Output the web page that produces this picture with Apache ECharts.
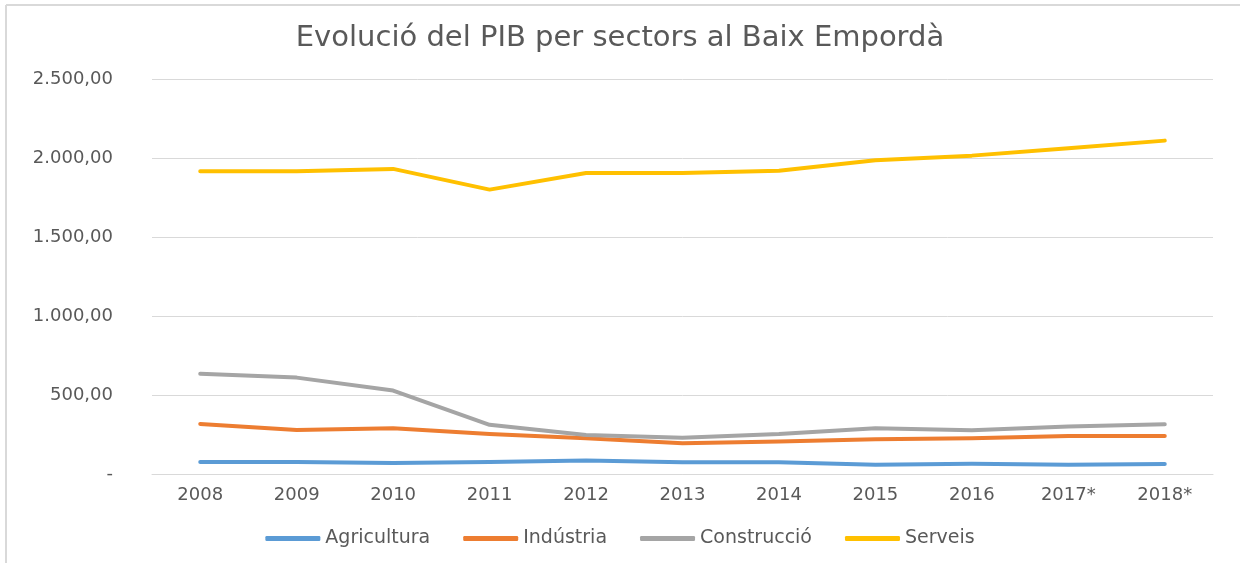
<!DOCTYPE html>
<html>
<head>
<meta charset="utf-8">
<title>Evolució del PIB per sectors al Baix Empordà</title>
<script src="https://cdn.jsdelivr.net/npm/echarts@6/dist/echarts.min.js"></script>
<style>
  html, body { margin: 0; padding: 0; background: #fff; width: 1240px; height: 563px; overflow: hidden; }
  #chart { width: 1240px; height: 563px; }
</style>
</head>
<body>
<div id="chart"></div>
<script>
const years = ['2008', '2009', '2010', '2011', '2012', '2013', '2014', '2015', '2016', '2017*', '2018*']
const agricultura = [76, 76, 70, 76, 86, 74, 74, 59, 65, 59, 63]
const industria = [317, 279, 290, 253, 226, 194, 205, 220, 226, 241, 241]
const construccio = [634, 610, 528, 311, 247, 230, 253, 290, 277, 300, 315]
const serveis = [1916, 1916, 1931, 1800, 1905, 1905, 1920, 1986, 2015, 2062, 2110]

const seriesNames = ['Agricultura', 'Indústria', 'Construcció', 'Serveis']
const seriesColors = ['#5b9bd5', '#ed7d31', '#a5a5a5', '#ffc000']
const seriesData = [agricultura, industria, construccio, serveis]

const textColor = '#595959'
const fontFamily = 'DejaVu Sans'

// format 2500 -> "2.500,00", zero shown as "-"
function formatValue(value) {
  if (value === 0) return '-'
  const [intPart, dec] = value.toFixed(2).split('.')
  return intPart.replace(/\B(?=(\d{3})+(?!\d))/g, '.') + ',' + dec
}

const chart = echarts.init(document.getElementById('chart'))
chart.setOption({
  animation: false,
  color: seriesColors,
  textStyle: { fontFamily },
  title: {
    text: 'Evolució del PIB per sectors al Baix Empordà',
    left: 'center',
    top: 19,
    textStyle: { color: textColor, fontSize: 29, fontWeight: 'normal', fontFamily }
  },
  // chart frame: only the left and top edges are visible in the source
  graphic: [
    { type: 'line', shape: { x1: 6, y1: 5, x2: 6, y2: 563 }, style: { stroke: '#d9d9d9', lineWidth: 2 } },
    { type: 'line', shape: { x1: 6, y1: 5, x2: 1240, y2: 5 }, style: { stroke: '#d9d9d9', lineWidth: 2 } }
  ],
  grid: { left: 152, right: 27, top: 79, bottom: 89 },
  legend: {
    top: 524,
    left: 'center',
    icon: 'roundRect',
    itemWidth: 55,
    itemHeight: 5,
    itemGap: 33,
    textStyle: { color: textColor, fontSize: 19, fontFamily },
    data: seriesNames
  },
  xAxis: {
    type: 'category',
    data: years,
    axisLine: { lineStyle: { color: '#d9d9d9', width: 1 } },
    axisTick: { show: false },
    axisLabel: { color: textColor, fontSize: 18, margin: 12, fontFamily }
  },
  yAxis: {
    type: 'value',
    min: 0,
    max: 2500,
    interval: 500,
    axisLine: { show: false },
    axisTick: { show: false },
    splitLine: { lineStyle: { color: '#d9d9d9', width: 1 } },
    axisLabel: { color: textColor, fontSize: 18, margin: 39, fontFamily, formatter: formatValue }
  },
  series: seriesNames.map((name, i) => ({
    name,
    type: 'line',
    data: seriesData[i],
    showSymbol: false,
    symbol: 'none',
    lineStyle: { width: 4, color: seriesColors[i], cap: 'round', join: 'round' },
    itemStyle: { color: seriesColors[i] }
  }))
})
</script>
</body>
</html>
